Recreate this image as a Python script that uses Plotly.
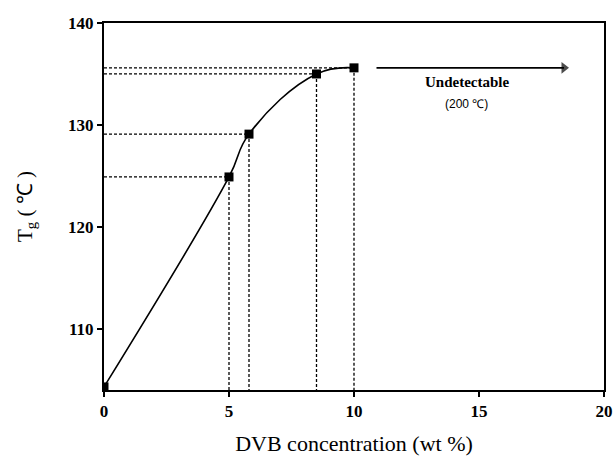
import plotly.graph_objects as go

dvb = [0, 5, 5.8, 8.5, 10]
tg = [104.3, 124.9, 129.1, 135.0, 135.6]
x_ticks = [0, 5, 10, 15, 20]
y_ticks = [110, 120, 130, 140]
y_min, y_max = 104, 140
arrow_x = [10.9, 18.4]

fig = go.Figure()

# dashed guide lines
for xv, yv in zip(dvb[1:], tg[1:]):
    fig.add_trace(go.Scatter(x=[0, xv], y=[yv, yv], mode="lines",
                             line=dict(color="black", width=1.3, dash="3px,2px"),
                             showlegend=False, hoverinfo="skip"))
    fig.add_trace(go.Scatter(x=[xv, xv], y=[yv, y_min], mode="lines",
                             line=dict(color="black", width=1.3, dash="3px,2px"),
                             showlegend=False, hoverinfo="skip"))

fig.add_trace(go.Scatter(x=dvb, y=tg, mode="lines+markers",
                         line=dict(color="black", width=1.6, shape="spline", smoothing=1.2),
                         marker=dict(symbol="square", size=9, color="black"),
                         showlegend=False))

# arrow
fig.add_trace(go.Scatter(x=arrow_x, y=[tg[-1], tg[-1]], mode="lines+markers",
                         line=dict(color="black", width=1.6),
                         marker=dict(symbol="triangle-right", size=[0, 10], color="black",
                                     line=dict(width=0)),
                         showlegend=False, hoverinfo="skip"))

fig.add_annotation(x=14.5, y=134.2, xref="x", yref="y", text="<b>Undetectable</b>",
                   showarrow=False, font=dict(family="Liberation Serif", size=15, color="black"))
fig.add_annotation(x=14.5, y=132.1, xref="x", yref="y", text="(200 ℃)",
                   showarrow=False, font=dict(family="Liberation Sans", size=12, color="black"))

axis_common = dict(showline=True, linecolor="black", linewidth=2, mirror=True,
                   ticks="outside", ticklen=5, tickwidth=2, tickcolor="black",
                   showgrid=False, zeroline=False, automargin=False,
                   tickfont=dict(family="Liberation Serif", size=17, color="black"))

fig.update_xaxes(range=[0, 20], tickvals=x_ticks, ticktext=[f"<b>{v}</b>" for v in x_ticks],
                 title=dict(text="DVB concentration (wt %)", standoff=16,
                            font=dict(family="Liberation Serif", size=22, color="black")),
                 **axis_common)
fig.update_yaxes(range=[y_min, y_max], tickvals=y_ticks, ticktext=[f"<b>{v}</b>" for v in y_ticks],
                 title=dict(text="T<sub>g</sub> ( ℃ )", standoff=30,
                            font=dict(family="Liberation Serif", size=21, color="black")),
                 **axis_common)

fig.update_layout(width=616, height=456, plot_bgcolor="white", paper_bgcolor="white",
                  margin=dict(l=104, r=12, t=23, b=66))

fig.write_html("out.html", config={"displayModeBar": False},
               post_script="document.body.style.margin='0';document.body.style.overflow='hidden';")
